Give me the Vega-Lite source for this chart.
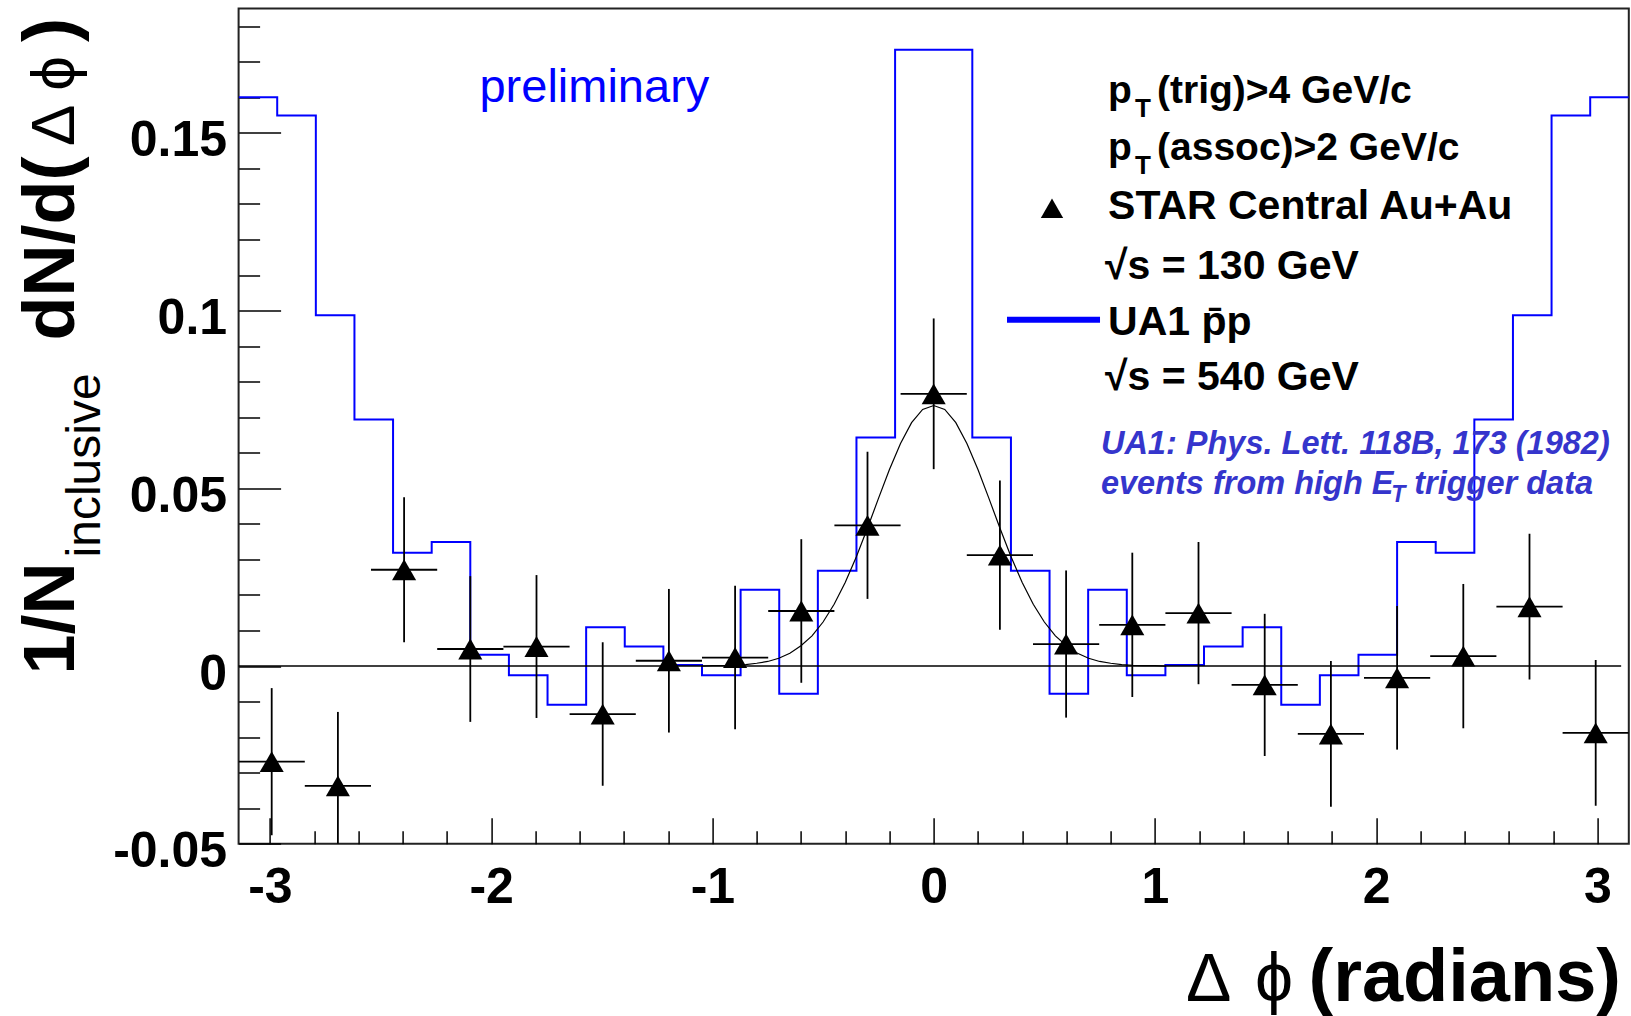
{
  "$schema": "https://vega.github.io/schema/vega-lite/v6.json",
  "width": 1390.2,
  "height": 835.3,
  "autosize": {"type": "none"},
  "padding": {"left": 238.6, "top": 8.5, "right": 2.2, "bottom": 172.2},
  "background": "white",
  "config": {"view": {"stroke": "#222", "strokeWidth": 2}, "font": "Liberation Sans", "axis": {"labelOverlap": false}},
  "data": {"values": [{}]},
  "datasets": {
    "star": [
      {"dphi": -2.9920, "val": -0.0269, "lo": -0.0476, "hi": -0.0062, "xlo": -3.1416, "xhi": -2.8424},
      {"dphi": -2.6928, "val": -0.0337, "lo": -0.0545, "hi": -0.0129, "xlo": -2.8424, "xhi": -2.5432},
      {"dphi": -2.3936, "val": 0.0271, "lo": 0.0067, "hi": 0.0475, "xlo": -2.5432, "xhi": -2.2440},
      {"dphi": -2.0944, "val": 0.0048, "lo": -0.0157, "hi": 0.0253, "xlo": -2.2440, "xhi": -1.9448},
      {"dphi": -1.7952, "val": 0.0055, "lo": -0.0146, "hi": 0.0256, "xlo": -1.9448, "xhi": -1.6456},
      {"dphi": -1.4960, "val": -0.0135, "lo": -0.0337, "hi": 0.0067, "xlo": -1.6456, "xhi": -1.3464},
      {"dphi": -1.1968, "val": 0.0015, "lo": -0.0187, "hi": 0.0217, "xlo": -1.3464, "xhi": -1.0472},
      {"dphi": -0.8976, "val": 0.0024, "lo": -0.0178, "hi": 0.0226, "xlo": -1.0472, "xhi": -0.7480},
      {"dphi": -0.5984, "val": 0.0155, "lo": -0.0047, "hi": 0.0357, "xlo": -0.7480, "xhi": -0.4488},
      {"dphi": -0.2992, "val": 0.0396, "lo": 0.0189, "hi": 0.0603, "xlo": -0.4488, "xhi": -0.1496},
      {"dphi": 0.0, "val": 0.0766, "lo": 0.0554, "hi": 0.0978, "xlo": -0.1496, "xhi": 0.1496},
      {"dphi": 0.2992, "val": 0.0312, "lo": 0.0102, "hi": 0.0522, "xlo": 0.1496, "xhi": 0.4488},
      {"dphi": 0.5984, "val": 0.0062, "lo": -0.0145, "hi": 0.0269, "xlo": 0.4488, "xhi": 0.7480},
      {"dphi": 0.8976, "val": 0.0116, "lo": -0.0087, "hi": 0.0319, "xlo": 0.7480, "xhi": 1.0472},
      {"dphi": 1.1968, "val": 0.0149, "lo": -0.0051, "hi": 0.0349, "xlo": 1.0472, "xhi": 1.3464},
      {"dphi": 1.4960, "val": -0.0053, "lo": -0.0253, "hi": 0.0147, "xlo": 1.3464, "xhi": 1.6456},
      {"dphi": 1.7952, "val": -0.0191, "lo": -0.0396, "hi": 0.0014, "xlo": 1.6456, "xhi": 1.9448},
      {"dphi": 2.0944, "val": -0.0033, "lo": -0.0235, "hi": 0.0169, "xlo": 1.9448, "xhi": 2.2440},
      {"dphi": 2.3936, "val": 0.0028, "lo": -0.0175, "hi": 0.0231, "xlo": 2.2440, "xhi": 2.5432},
      {"dphi": 2.6928, "val": 0.0167, "lo": -0.0038, "hi": 0.0372, "xlo": 2.5432, "xhi": 2.8424},
      {"dphi": 2.9920, "val": -0.0188, "lo": -0.0393, "hi": 0.0017, "xlo": 2.8424, "xhi": 3.1416}
    ],
    "ua1": [
      {"dphi": -3.1416, "ua1": 0.1600},
      {"dphi": -2.9671, "ua1": 0.1549},
      {"dphi": -2.7925, "ua1": 0.0987},
      {"dphi": -2.6180, "ua1": 0.0694},
      {"dphi": -2.4435, "ua1": 0.0319},
      {"dphi": -2.2689, "ua1": 0.0349},
      {"dphi": -2.0944, "ua1": 0.0032},
      {"dphi": -1.9199, "ua1": -0.0026},
      {"dphi": -1.7453, "ua1": -0.0109},
      {"dphi": -1.5708, "ua1": 0.0109},
      {"dphi": -1.3963, "ua1": 0.0055},
      {"dphi": -1.2217, "ua1": 0.0003},
      {"dphi": -1.0472, "ua1": -0.0026},
      {"dphi": -0.8727, "ua1": 0.0215},
      {"dphi": -0.6981, "ua1": -0.0078},
      {"dphi": -0.5236, "ua1": 0.0268},
      {"dphi": -0.3491, "ua1": 0.0643},
      {"dphi": -0.1745, "ua1": 0.1734},
      {"dphi": 0.0, "ua1": 0.1734},
      {"dphi": 0.1745, "ua1": 0.0643},
      {"dphi": 0.3491, "ua1": 0.0268},
      {"dphi": 0.5236, "ua1": -0.0078},
      {"dphi": 0.6981, "ua1": 0.0215},
      {"dphi": 0.8727, "ua1": -0.0026},
      {"dphi": 1.0472, "ua1": 0.0003},
      {"dphi": 1.2217, "ua1": 0.0055},
      {"dphi": 1.3963, "ua1": 0.0109},
      {"dphi": 1.5708, "ua1": -0.0109},
      {"dphi": 1.7453, "ua1": -0.0026},
      {"dphi": 1.9199, "ua1": 0.0032},
      {"dphi": 2.0944, "ua1": 0.0349},
      {"dphi": 2.2689, "ua1": 0.0319},
      {"dphi": 2.4435, "ua1": 0.0694},
      {"dphi": 2.6180, "ua1": 0.0987},
      {"dphi": 2.7925, "ua1": 0.1549},
      {"dphi": 2.9671, "ua1": 0.1600},
      {"dphi": 3.1416, "ua1": 0.1600}
    ],
    "fit": [
      {"dphi": -1.05, "fit": 0.0000}, {"dphi": -1.0, "fit": 0.0001}, {"dphi": -0.95, "fit": 0.0001},
      {"dphi": -0.9, "fit": 0.0002}, {"dphi": -0.85, "fit": 0.0004}, {"dphi": -0.8, "fit": 0.0008},
      {"dphi": -0.75, "fit": 0.0013}, {"dphi": -0.7, "fit": 0.0022}, {"dphi": -0.65, "fit": 0.0036},
      {"dphi": -0.6, "fit": 0.0057}, {"dphi": -0.55, "fit": 0.0085}, {"dphi": -0.5, "fit": 0.0124},
      {"dphi": -0.45, "fit": 0.0174}, {"dphi": -0.4, "fit": 0.0235}, {"dphi": -0.35, "fit": 0.0307},
      {"dphi": -0.3, "fit": 0.0387}, {"dphi": -0.25, "fit": 0.0471}, {"dphi": -0.2, "fit": 0.0553},
      {"dphi": -0.15, "fit": 0.0626}, {"dphi": -0.1, "fit": 0.0685}, {"dphi": -0.05, "fit": 0.0722},
      {"dphi": 0.0, "fit": 0.0733},
      {"dphi": 0.05, "fit": 0.0722}, {"dphi": 0.1, "fit": 0.0685}, {"dphi": 0.15, "fit": 0.0626},
      {"dphi": 0.2, "fit": 0.0553}, {"dphi": 0.25, "fit": 0.0471}, {"dphi": 0.3, "fit": 0.0387},
      {"dphi": 0.35, "fit": 0.0307}, {"dphi": 0.4, "fit": 0.0235}, {"dphi": 0.45, "fit": 0.0174},
      {"dphi": 0.5, "fit": 0.0124}, {"dphi": 0.55, "fit": 0.0085}, {"dphi": 0.6, "fit": 0.0057},
      {"dphi": 0.65, "fit": 0.0036}, {"dphi": 0.7, "fit": 0.0022}, {"dphi": 0.75, "fit": 0.0013},
      {"dphi": 0.8, "fit": 0.0008}, {"dphi": 0.85, "fit": 0.0004}, {"dphi": 0.9, "fit": 0.0002},
      {"dphi": 0.95, "fit": 0.0001}, {"dphi": 1.0, "fit": 0.0001}, {"dphi": 1.05, "fit": 0.0000}
    ]
  },
  "layer": [
    {
      "data": {"name": "ua1"},
      "mark": {"type": "line", "interpolate": "step-after", "color": "#0000ff", "strokeWidth": 2, "clip": true},
      "encoding": {
        "x": {
          "field": "dphi", "type": "quantitative",
          "scale": {"domain": [-3.14159, 3.14159], "nice": false, "zero": false},
          "axis": {
            "title": null, "domain": false, "grid": false, "orient": "bottom", "tickCount": 200,
            "values": [-3, -2.8, -2.6, -2.4, -2.2, -2, -1.8, -1.6, -1.4, -1.2, -1, -0.8, -0.6, -0.4, -0.2, 0, 0.2, 0.4, 0.6, 0.8, 1, 1.2, 1.4, 1.6, 1.8, 2, 2.2, 2.4, 2.6, 2.8, 3],
            "ticks": true, "tickColor": "#000", "tickWidth": 1.5,
            "tickSize": {"condition": {"test": "abs(datum.value - round(datum.value)) < 0.001", "value": -26}, "value": -13},
            "labelExpr": "abs(datum.value - round(datum.value)) < 0.001 ? (datum.value < -0.001 ? '-' + format(-datum.value, 'd') : format(abs(datum.value), 'd')) : ''",
            "labelFont": "Liberation Sans", "labelFontWeight": "bold", "labelColor": "#000",
            "labelFontSize": {"condition": {"test": "abs(datum.value - round(datum.value)) < 0.001", "value": 50}, "value": 1},
            "labelPadding": 85, "labelBaseline": "alphabetic", "labelOverlap": false, "labelFlush": false, "labelBound": false
          }
        },
        "y": {
          "field": "ua1", "type": "quantitative",
          "scale": {"domain": [-0.05, 0.185], "nice": false, "zero": false},
          "axis": {
            "title": null, "domain": false, "grid": false, "orient": "left", "tickCount": 200,
            "values": [-0.05, -0.04, -0.03, -0.02, -0.01, 0, 0.01, 0.02, 0.03, 0.04, 0.05, 0.06, 0.07, 0.08, 0.09, 0.1, 0.11, 0.12, 0.13, 0.14, 0.15, 0.16, 0.17, 0.18],
            "ticks": true, "tickColor": "#000", "tickWidth": 1.5,
            "tickSize": {"condition": {"test": "abs(datum.value * 20 - round(datum.value * 20)) < 0.001", "value": -42}, "value": -21},
            "labelExpr": "abs(datum.value * 20 - round(datum.value * 20)) < 0.001 ? (datum.value < -0.0001 ? '-' + format(-datum.value, '~g') : format(abs(datum.value), '~g')) : ''",
            "labelFont": "Liberation Sans", "labelFontWeight": "bold", "labelColor": "#000",
            "labelFontSize": {"condition": {"test": "abs(datum.value * 20 - round(datum.value * 20)) < 0.001", "value": 50}, "value": 1},
            "labelPadding": 54, "labelOffset": 23, "labelBaseline": "alphabetic", "labelAlign": "right", "labelOverlap": false, "labelFlush": false, "labelBound": false
          }
        }
      }
    },
    {
      "mark": {"type": "rule", "color": "#000", "strokeWidth": 1.5},
      "encoding": {
        "x": {"datum": -3.14159},
        "x2": {"datum": 3.107},
        "y": {"datum": 0}
      }
    },
    {
      "data": {"name": "fit"},
      "mark": {"type": "line", "color": "#000", "strokeWidth": 1.2, "clip": true},
      "encoding": {
        "x": {"field": "dphi", "type": "quantitative"},
        "y": {"field": "fit", "type": "quantitative"}
      }
    },
    {
      "data": {"name": "star"},
      "mark": {"type": "rule", "color": "#000", "strokeWidth": 1.8, "clip": true},
      "encoding": {
        "x": {"field": "dphi", "type": "quantitative"},
        "y": {"field": "lo", "type": "quantitative"},
        "y2": {"field": "hi"}
      }
    },
    {
      "data": {"name": "star"},
      "mark": {"type": "rule", "color": "#000", "strokeWidth": 1.8, "clip": true},
      "encoding": {
        "x": {"field": "xlo", "type": "quantitative"},
        "x2": {"field": "xhi"},
        "y": {"field": "val", "type": "quantitative"}
      }
    },
    {
      "data": {"name": "star"},
      "mark": {"type": "point", "shape": "triangle-up", "filled": true, "color": "#000", "opacity": 1, "size": 580, "clip": true},
      "encoding": {
        "x": {"field": "dphi", "type": "quantitative"},
        "y": {"field": "val", "type": "quantitative"}
      }
    },
    {
      "mark": {"type": "text", "text": "preliminary", "font": "Liberation Sans", "fontSize": 47, "color": "#0000ff", "align": "left", "baseline": "alphabetic"},
      "encoding": {"x": {"datum": -2.053}, "y": {"datum": 0.15872}}
    },
    {
      "mark": {"type": "text", "text": "p", "font": "Liberation Sans", "fontSize": 39, "fontWeight": "bold", "color": "#000", "align": "left", "baseline": "alphabetic"},
      "encoding": {"x": {"datum": 0.788}, "y": {"datum": 0.1583}}
    },
    {
      "mark": {"type": "text", "text": "T", "font": "Liberation Sans", "fontSize": 26, "fontWeight": "bold", "color": "#000", "align": "left", "baseline": "alphabetic"},
      "encoding": {"x": {"datum": 0.9101}, "y": {"datum": 0.1545}}
    },
    {
      "mark": {"type": "text", "text": "(trig)>4 GeV/c", "font": "Liberation Sans", "fontSize": 39, "fontWeight": "bold", "color": "#000", "align": "left", "baseline": "alphabetic"},
      "encoding": {"x": {"datum": 1.0093}, "y": {"datum": 0.1583}}
    },
    {
      "mark": {"type": "text", "text": "p", "font": "Liberation Sans", "fontSize": 39, "fontWeight": "bold", "color": "#000", "align": "left", "baseline": "alphabetic"},
      "encoding": {"x": {"datum": 0.788}, "y": {"datum": 0.1423}}
    },
    {
      "mark": {"type": "text", "text": "T", "font": "Liberation Sans", "fontSize": 26, "fontWeight": "bold", "color": "#000", "align": "left", "baseline": "alphabetic"},
      "encoding": {"x": {"datum": 0.9101}, "y": {"datum": 0.1385}}
    },
    {
      "mark": {"type": "text", "text": "(assoc)>2 GeV/c", "font": "Liberation Sans", "fontSize": 39, "fontWeight": "bold", "color": "#000", "align": "left", "baseline": "alphabetic"},
      "encoding": {"x": {"datum": 1.0093}, "y": {"datum": 0.1423}}
    },
    {
      "mark": {"type": "point", "shape": "triangle-up", "filled": true, "color": "#000", "opacity": 1, "size": 500},
      "encoding": {"x": {"datum": 0.5347}, "y": {"datum": 0.1288}}
    },
    {
      "mark": {"type": "text", "text": "STAR Central Au+Au", "font": "Liberation Sans", "fontSize": 41, "fontWeight": "bold", "color": "#000", "align": "left", "baseline": "alphabetic"},
      "encoding": {"x": {"datum": 0.788}, "y": {"datum": 0.12586}}
    },
    {
      "mark": {"type": "text", "text": "√s = 130 GeV", "font": "Liberation Sans", "fontSize": 41, "fontWeight": "bold", "color": "#000", "align": "left", "baseline": "alphabetic"},
      "encoding": {"x": {"datum": 0.7742}, "y": {"datum": 0.10898}}
    },
    {
      "mark": {"type": "rule", "color": "#0000ff", "strokeWidth": 6},
      "encoding": {"x": {"datum": 0.3313}, "x2": {"datum": 0.7517}, "y": {"datum": 0.09744}}
    },
    {
      "mark": {"type": "text", "text": "UA1 p̄p", "font": "Liberation Sans", "fontSize": 41, "fontWeight": "bold", "color": "#000", "align": "left", "baseline": "alphabetic"},
      "encoding": {"x": {"datum": 0.788}, "y": {"datum": 0.09302}}
    },
    {
      "mark": {"type": "text", "text": "√s = 540 GeV", "font": "Liberation Sans", "fontSize": 41, "fontWeight": "bold", "color": "#000", "align": "left", "baseline": "alphabetic"},
      "encoding": {"x": {"datum": 0.7742}, "y": {"datum": 0.07755}}
    },
    {
      "mark": {"type": "text", "text": "UA1: Phys. Lett. 118B, 173 (1982)", "font": "Liberation Sans", "fontSize": 32.5, "fontWeight": "bold", "fontStyle": "italic", "color": "#3535cc", "align": "left", "baseline": "alphabetic"},
      "encoding": {"x": {"datum": 0.7558}, "y": {"datum": 0.05974}}
    },
    {
      "mark": {"type": "text", "text": "events from high E", "font": "Liberation Sans", "fontSize": 32.5, "fontWeight": "bold", "fontStyle": "italic", "color": "#3535cc", "align": "left", "baseline": "alphabetic"},
      "encoding": {"x": {"datum": 0.7558}, "y": {"datum": 0.04848}}
    },
    {
      "mark": {"type": "text", "text": "T", "font": "Liberation Sans", "fontSize": 23, "fontWeight": "bold", "fontStyle": "italic", "color": "#3535cc", "align": "left", "baseline": "alphabetic"},
      "encoding": {"x": {"datum": 2.068}, "y": {"datum": 0.04612}}
    },
    {
      "mark": {"type": "text", "text": "trigger data", "font": "Liberation Sans", "fontSize": 32.5, "fontWeight": "bold", "fontStyle": "italic", "color": "#3535cc", "align": "left", "baseline": "alphabetic"},
      "encoding": {"x": {"datum": 2.172}, "y": {"datum": 0.04848}}
    },
    {
      "mark": {"type": "text", "text": "1/N", "font": "Liberation Sans", "fontSize": 72, "fontWeight": "bold", "color": "#000", "align": "left", "baseline": "alphabetic", "angle": 270},
      "encoding": {"x": {"datum": -3.8856}, "y": {"datum": -0.00236}}
    },
    {
      "mark": {"type": "text", "text": "inclusive", "font": "Liberation Sans", "fontSize": 48, "color": "#000", "align": "left", "baseline": "alphabetic", "angle": 270},
      "encoding": {"x": {"datum": -3.768}, "y": {"datum": 0.03056}}
    },
    {
      "mark": {"type": "text", "text": "dN/d(", "font": "Liberation Sans", "fontSize": 72, "fontWeight": "bold", "color": "#000", "align": "left", "baseline": "alphabetic", "angle": 270},
      "encoding": {"x": {"datum": -3.8856}, "y": {"datum": 0.09162}}
    },
    {
      "mark": {"type": "text", "text": "Δ ϕ", "font": "Liberation Sans", "fontSize": 62, "color": "#000", "align": "left", "baseline": "alphabetic", "angle": 270},
      "encoding": {"x": {"datum": -3.8856}, "y": {"datum": 0.1463}}
    },
    {
      "mark": {"type": "text", "text": ")", "font": "Liberation Sans", "fontSize": 72, "fontWeight": "bold", "color": "#000", "align": "left", "baseline": "alphabetic", "angle": 270},
      "encoding": {"x": {"datum": -3.8856}, "y": {"datum": 0.17557}}
    },
    {
      "mark": {"type": "text", "text": "Δ", "font": "Liberation Sans", "fontSize": 68, "color": "#000", "align": "left", "baseline": "alphabetic"},
      "encoding": {"x": {"datum": 1.1403}, "y": {"datum": -0.0941}}
    },
    {
      "mark": {"type": "text", "text": "ϕ", "font": "Liberation Sans", "fontSize": 68, "color": "#000", "align": "left", "baseline": "alphabetic"},
      "encoding": {"x": {"datum": 1.4522}, "y": {"datum": -0.0941}}
    },
    {
      "mark": {"type": "text", "text": "(radians)", "font": "Liberation Sans", "fontSize": 74, "fontWeight": "bold", "color": "#000", "align": "right", "baseline": "alphabetic"},
      "encoding": {"x": {"datum": 3.1064}, "y": {"datum": -0.0941}}
    }
  ]
}
